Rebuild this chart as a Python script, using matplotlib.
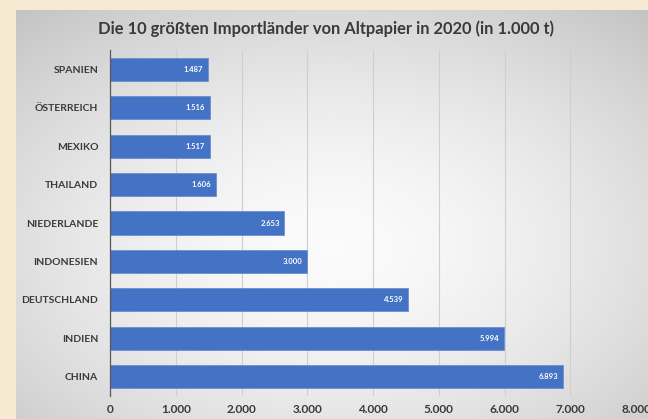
import matplotlib
matplotlib.use("Agg")
import matplotlib.pyplot as plt
import numpy as np

# Importländer von Altpapier 2020, Werte in 1.000 t
laender = ["SPANIEN", "ÖSTERREICH", "MEXIKO", "THAILAND", "NIEDERLANDE",
           "INDONESIEN", "DEUTSCHLAND", "INDIEN", "CHINA"]
werte = [1487, 1516, 1517, 1606, 2653, 3000, 4539, 5994, 6893]
xticks = [0, 1000, 2000, 3000, 4000, 5000, 6000, 7000, 8000]


def fmt(v):
    # deutsche Schreibweise: Punkt als Tausendertrennzeichen
    return f"{v:,}".replace(",", ".")


plt.rcParams["font.family"] = ["Lato", "DejaVu Sans"]

fig = plt.figure(figsize=(6.48, 4.19), dpi=100)
fig.patch.set_facecolor("#F6EBD2")

# Hintergrund mit radialem Verlauf
W, H = 648, 419
bg = fig.add_axes([16 / W, 0, (W - 16) / W, (H - 10) / H])
yy, xx = np.mgrid[0:200, 0:300]
cx, cy = 150, 115
r = np.sqrt(((xx - cx) / 300) ** 2 + ((yy - cy) / 200) ** 2)
r = r / r.max()
grey = 0.985 - 0.22 * r ** 1.6
bg.imshow(np.dstack([grey, grey, grey]), aspect="auto", extent=[0, 1, 0, 1],
          interpolation="bicubic")
bg.axis("off")

ax = fig.add_axes([110 / W, (H - 396) / H, (636 - 110) / W, (396 - 50) / H])
ax.patch.set_alpha(0)

y = np.arange(len(laender))
ax.barh(y, werte, height=0.6, color="#4472C4", edgecolor="#6C8FD0",
        linewidth=0.6, zorder=3)

for yi, v in zip(y, werte):
    ax.text(v - 70, yi, fmt(v), ha="right", va="center", color="white",
            fontsize=5.5, fontweight="bold", zorder=4)

ax.set_ylim(len(laender) - 0.5, -0.5)
ax.set_xlim(0, 8000)
ax.set_yticks(y)
ax.set_yticklabels(laender, fontsize=7.5, fontweight="bold", color="#3A3A3A")
ax.set_xticks(xticks)
ax.set_xticklabels([fmt(t) for t in xticks], fontsize=8.5, fontweight="bold",
                   color="#3A3A3A")
ax.tick_params(axis="y", length=0, pad=8.5)
ax.tick_params(axis="x", length=0, pad=5.5)

ax.grid(axis="x", color="#CFCFCF", linewidth=0.8, zorder=0)
for s in ["top", "right", "bottom"]:
    ax.spines[s].set_visible(False)
ax.spines["left"].set_color("#595959")
ax.spines["left"].set_linewidth(0.9)
ax.spines["left"].set_zorder(5)

fig.text(326 / W, 1 - 29 / H, "Die 10 größten Importländer von Altpapier in 2020 (in 1.000 t)",
         ha="center", va="center", fontsize=11.9, fontweight="bold", color="#3A3A3A")

fig.savefig("out.png", dpi=100)
